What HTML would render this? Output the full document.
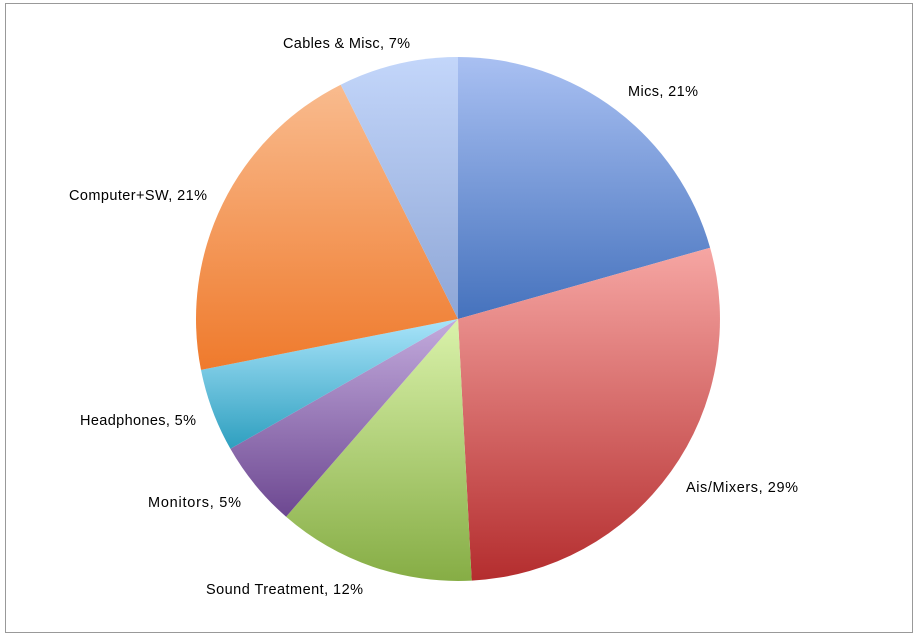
<!DOCTYPE html>
<html><head><style>body{margin:0;background:#fff}svg{display:block}text{font-family:"Liberation Sans",sans-serif;font-size:14.5px;fill:#000}</style></head>
<body>
<svg width="917" height="640" viewBox="0 0 917 640">
<defs>
<linearGradient id="g1" x1="0" y1="0" x2="0" y2="1"><stop offset="0" stop-color="#a9c0f2"/><stop offset="1" stop-color="#4572bd"/></linearGradient>
<linearGradient id="g2" x1="0" y1="0" x2="0" y2="1"><stop offset="0" stop-color="#f6a6a3"/><stop offset="1" stop-color="#b42d2e"/></linearGradient>
<linearGradient id="g3" x1="0" y1="0" x2="0" y2="1"><stop offset="0" stop-color="#daf2ab"/><stop offset="1" stop-color="#86ad45"/></linearGradient>
<linearGradient id="g4" x1="0" y1="0" x2="0" y2="1"><stop offset="0" stop-color="#c3abdd"/><stop offset="1" stop-color="#6d4891"/></linearGradient>
<linearGradient id="g5" x1="0" y1="0" x2="0" y2="1"><stop offset="0" stop-color="#a9e4fa"/><stop offset="1" stop-color="#2e9fbf"/></linearGradient>
<linearGradient id="g6" x1="0" y1="0" x2="0" y2="1"><stop offset="0" stop-color="#f9bb8e"/><stop offset="1" stop-color="#ef7a2c"/></linearGradient>
<linearGradient id="g7" x1="0" y1="0" x2="0" y2="1"><stop offset="0" stop-color="#c3d6fa"/><stop offset="1" stop-color="#8ea6d6"/></linearGradient>
</defs>
<rect x="5.5" y="3.5" width="907" height="629" fill="#fff" stroke="#999"/>
<path d="M458,319 L458,57 A262,262 0 0 1 710.1,247.7 Z" fill="url(#g1)"/>
<path d="M458,319 L710.1,247.7 A262,262 0 0 1 471.7,580.6 Z" fill="url(#g2)"/>
<path d="M458,319 L471.7,580.6 A262,262 0 0 1 286.1,516.7 Z" fill="url(#g3)"/>
<path d="M458,319 L286.1,516.7 A262,262 0 0 1 230.4,448.8 Z" fill="url(#g4)"/>
<path d="M458,319 L230.4,448.8 A262,262 0 0 1 201,369.9 Z" fill="url(#g5)"/>
<path d="M458,319 L201,369.9 A262,262 0 0 1 340.7,84.7 Z" fill="url(#g6)"/>
<path d="M458,319 L340.7,84.7 A262,262 0 0 1 458,57 Z" fill="url(#g7)"/>
<text x="628" y="96" textLength="70">Mics, 21%</text>
<text x="686" y="492" textLength="112">Ais/Mixers, 29%</text>
<text x="206" y="594" textLength="157">Sound Treatment, 12%</text>
<text x="148" y="507" textLength="93">Monitors, 5%</text>
<text x="80" y="425" textLength="116">Headphones, 5%</text>
<text x="69" y="200" textLength="138">Computer+SW, 21%</text>
<text x="283" y="48" textLength="127">Cables &amp; Misc, 7%</text>
</svg>
</body></html>
